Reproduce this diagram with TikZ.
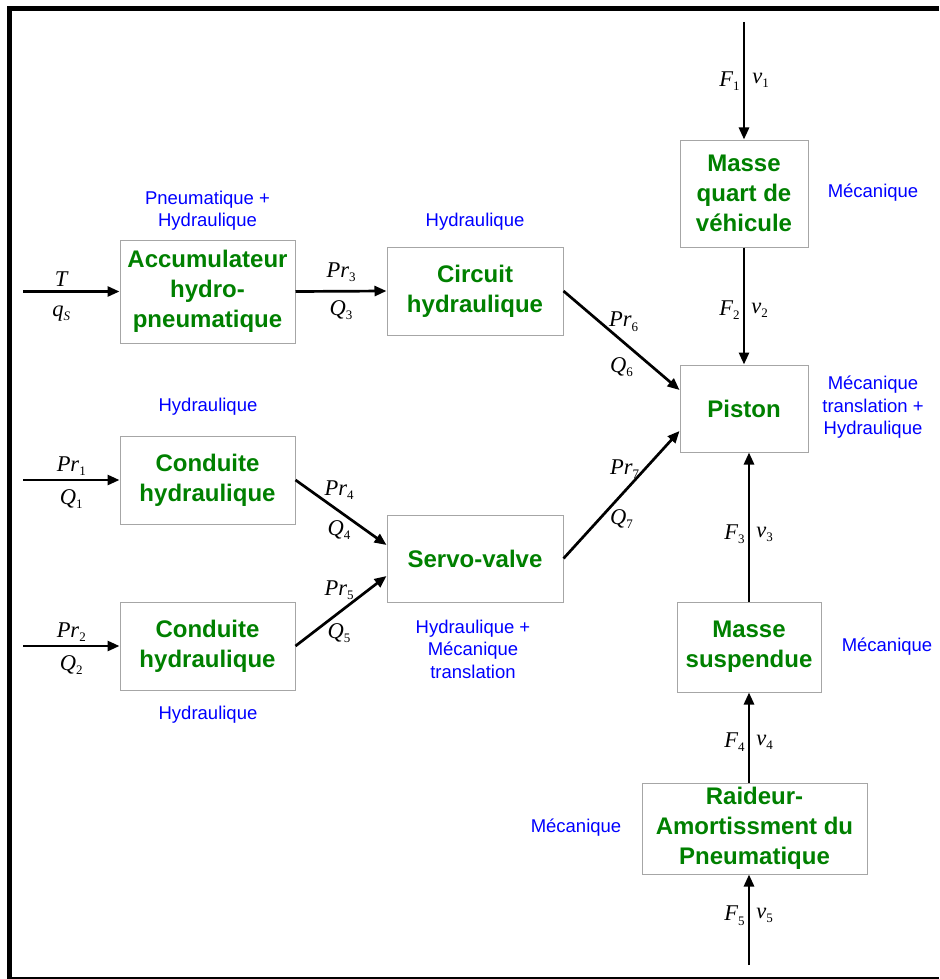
\documentclass[tikz,border=0pt]{standalone}
\usepackage{fontspec}
\setmainfont{Liberation Sans}
\newfontfamily\serifvar{Liberation Serif}
\usetikzlibrary{arrows.meta}

\newcommand{\ind}[1]{\raisebox{-0.4ex}{\fontsize{13}{13}\selectfont\upshape #1}}

\tikzset{
  bloc/.style={draw=gray!70, line width=1pt, align=center, inner sep=0pt,
    text=green!50!black, font=\fontsize{24}{30}\selectfont\bfseries},
  domaine/.style={align=center, text=blue, font=\fontsize{18.5}{22.5}\selectfont},
  fleche/.style={line width=2.7pt, -{Triangle[length=12pt,width=10pt]}},
  var/.style={font=\fontsize{22.5}{26}\selectfont\serifvar\itshape, inner sep=3pt},
}

\begin{document}
\begin{tikzpicture}[x=1pt, y=-1pt]
  \useasboundingbox (0,0) rectangle (939,979);

  %% Frame
  \draw[line width=5pt, line join=miter] (939,8.5) -- (9.8,8.5) -- (9.8,979);
  \draw[line width=1.5pt] (9.8,978) -- (939,978);

  %% Blocks
  \node[bloc, minimum width=175pt, minimum height=103pt] (accu) at (207.5,291.5)
    {Accumulateur\\hydro-\\pneumatique};
  \node[bloc, minimum width=176pt, minimum height=88pt] (circuit) at (475,291)
    {Circuit\\hydraulique};
  \node[bloc, minimum width=175pt, minimum height=88pt] (cond1) at (207.5,480)
    {Conduite\\hydraulique};
  \node[bloc, minimum width=175pt, minimum height=88pt] (cond2) at (207.5,646)
    {Conduite\\hydraulique};
  \node[bloc, minimum width=176pt, minimum height=87pt] (servo) at (475,558.5)
    {Servo-valve};
  \node[bloc, minimum width=128pt, minimum height=107pt] (mquart) at (744,193.5)
    {Masse\\quart de\\véhicule};
  \node[bloc, minimum width=128pt, minimum height=87pt] (piston) at (744,408.5)
    {Piston};
  \node[bloc, minimum width=144pt, minimum height=90pt] (msusp) at (749,647)
    {Masse\\suspendue};
  \node[bloc, minimum width=225pt, minimum height=91pt] (raideur) at (754.5,828.5)
    {Raideur-\\Amortissment du\\Pneumatique};

  %% Physical domains
  \node[domaine] (dAccu) at (207.5,210.5) {Pneumatique +\\Hydraulique};
  \node[domaine] (dCircuit) at (475,222) {Hydraulique};
  \node[domaine] (dCond1) at (208,407) {Hydraulique};
  \node[domaine] (dCond2) at (208,715) {Hydraulique};
  \node[domaine] (dServo) at (473,649) {Hydraulique +\\Mécanique\\translation};
  \node[domaine] (dMquart) at (873,193) {Mécanique};
  \node[domaine] (dPiston) at (873,407.5) {Mécanique\\translation +\\Hydraulique};
  \node[domaine] (dMsusp) at (887,647) {Mécanique};
  \node[domaine] (dRaideur) at (576,828) {Mécanique};

  %% Free ends
  \coordinate (inT) at (23,291.5);
  \coordinate (in1) at (23,480);
  \coordinate (in2) at (23,646);
  \coordinate (inF1) at (744,22);
  \coordinate (inF5) at (749,965);

  %% Hydraulic side
  \draw[fleche] (inT) -- (inT -| accu.west)
    node[var, midway, above=1pt, xshift=-10pt] {T}
    node[var, midway, below=10pt, xshift=-10pt] {q\ind{\itshape S}};
  \draw[fleche] (in1) -- (in1 -| cond1.west)
    node[var, midway, above=0pt] {Pr\ind{1}} node[var, midway, below=5pt] {Q\ind{1}};
  \draw[fleche] (in2) -- (in2 -| cond2.west)
    node[var, midway, above=0pt] {Pr\ind{2}} node[var, midway, below=5pt] {Q\ind{2}};
  \draw[fleche] (accu.east) -- (circuit.west)
    node[var, midway, above=5pt] {Pr\ind{3}} node[var, midway, below=5pt] {Q\ind{3}};
  \draw[fleche] (cond1.east) -- ([yshift=13.5pt]servo.west)
    node[var, midway, above=9pt, xshift=-2pt] {Pr\ind{4}}
    node[var, midway, below=4pt, xshift=-2pt] {Q\ind{4}};
  \draw[fleche] (cond2.east) -- ([yshift=-17.5pt]servo.west)
    node[var, midway, above=7pt, xshift=-2pt] {Pr\ind{5}}
    node[var, midway, below=8pt, xshift=-2pt] {Q\ind{5}};
  \draw[fleche] (circuit.east) -- ([yshift=18.5pt]piston.west)
    node[var, midway, above=5pt, xshift=2pt] {Pr\ind{6}}
    node[var, midway, below=13pt] {Q\ind{6}};
  \draw[fleche] (servo.east) -- ([yshift=-22.5pt]piston.west)
    node[var, midway, above=12pt, xshift=3pt] {Pr\ind{7}}
    node[var, midway, below=10pt] {Q\ind{7}};

  %% Mechanical side
  \draw[fleche] (inF1) -- (mquart.north)
    node[var, midway, left] {F\ind{1}} node[var, midway, right, xshift=4pt] {v\ind{1}};
  \draw[fleche] (mquart.south) -- (piston.north)
    node[var, midway, left, yshift=-4pt] {F\ind{2}}
    node[var, midway, right, yshift=-4pt, xshift=3pt] {v\ind{2}};
  \draw[fleche] (msusp.north) -- (msusp.north |- piston.south)
    node[var, midway, left, yshift=-7pt] {F\ind{3}}
    node[var, midway, right, yshift=-7pt, xshift=3pt] {v\ind{3}};
  \draw[fleche] (msusp.south |- raideur.north) -- (msusp.south)
    node[var, midway, left, yshift=-5pt] {F\ind{4}}
    node[var, midway, right, yshift=-5pt, xshift=3pt] {v\ind{4}};
  \draw[fleche] (inF5) -- (inF5 |- raideur.south)
    node[var, midway, left, yshift=4pt] {F\ind{5}}
    node[var, midway, right, yshift=4pt, xshift=3pt] {v\ind{5}};

\end{tikzpicture}
\end{document}
